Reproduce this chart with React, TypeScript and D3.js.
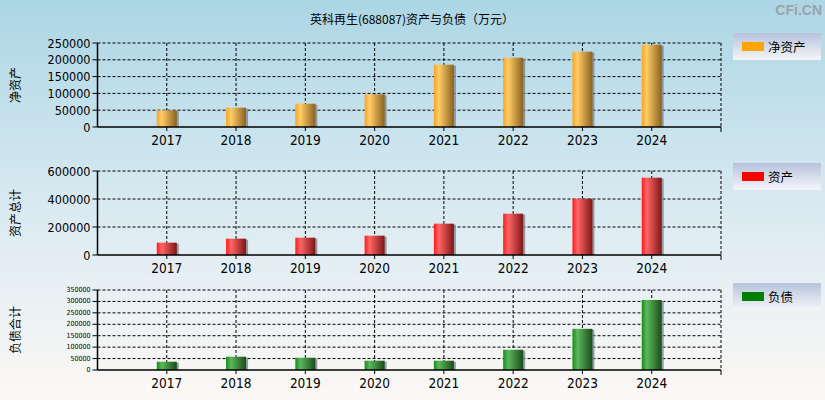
import React from "react";
import * as d3 from "d3";

const years = ["2017", "2018", "2019", "2020", "2021", "2022", "2023", "2024"];
const netAssets = [49600, 57500, 69400, 97200, 185500, 206300, 224200, 245000];
const totalAssets = [88100, 116700, 123800, 138100, 223800, 295200, 402400, 552400];
const liabilities = [36300, 58100, 53700, 40700, 40700, 88600, 180100, 306400];

const ticks1 = [0, 50000, 100000, 150000, 200000, 250000];
const ticks2 = [0, 200000, 400000, 600000];
const ticks3 = [0, 50000, 100000, 150000, 200000, 250000, 300000, 350000];

const W = 825;
const H = 400;
const left = 97.5;
const right = 721;

const NUM_FONT = "'Liberation Sans Narrow', 'Arial Narrow', 'DejaVu Sans Condensed', sans-serif";
const CJK_FONT = "'Noto Sans CJK SC', sans-serif";

type PanelProps = {
  values: number[];
  ticks: number[];
  top: number;
  bottom: number;
  title: string;
  legend: string;
  gradId: string;
  swatch: string;
  tickFont: number;
  legendTop: number;
};

const x = d3.scaleLinear().domain([0, years.length + 1]).range([left, right]);

function Panel(p: PanelProps) {
  const y = d3.scaleLinear().domain([0, p.ticks[p.ticks.length - 1]]).range([p.bottom, p.top]);
  const bw = 20;
  return (
    <g>
      {p.ticks.map((t) => (
        <g key={"h" + t}>
          {t > 0 && (
            <line x1={left} x2={right} y1={y(t)} y2={y(t)} stroke="#000" strokeDasharray="3,2" strokeWidth={1} />
          )}
          <line x1={left - 5} x2={left} y1={y(t)} y2={y(t)} stroke="#000" />
          <text
            x={left - 7}
            y={y(t)}
            textAnchor="end"
            dominantBaseline="central"
            fontFamily={NUM_FONT}
            fontSize={p.tickFont}
            fill="#000"
          >
            {t}
          </text>
        </g>
      ))}
      {years.map((yr, i) => (
        <line key={"v" + yr} x1={x(i + 1)} x2={x(i + 1)} y1={p.top} y2={p.bottom} stroke="#000" strokeDasharray="3,2" />
      ))}
      <line x1={right} x2={right} y1={p.top} y2={p.bottom} stroke="#000" strokeDasharray="3,2" />
      {p.values.map((v, i) => {
        const cx = x(i + 1);
        return (
          <g key={"b" + i}>
            <rect x={cx - bw / 2 + 2} y={y(v) + 1} width={bw} height={p.bottom - y(v) - 1} fill="#7a8890" opacity={0.8} />
            <rect x={cx - bw / 2} y={y(v)} width={bw} height={p.bottom - y(v)} fill={`url(#${p.gradId})`} />
          </g>
        );
      })}
      <line x1={left} x2={left} y1={p.top} y2={p.bottom} stroke="#000" strokeWidth={1.5} />
      <line x1={left} x2={right} y1={p.bottom} y2={p.bottom} stroke="#000" strokeWidth={1.5} />
      <line x1={right} x2={right} y1={p.bottom} y2={p.bottom + 5} stroke="#000" />
      {years.map((yr, i) => (
        <g key={"xt" + yr}>
          <line x1={x(i + 1)} x2={x(i + 1)} y1={p.bottom} y2={p.bottom + 4} stroke="#000" />
          <text
            x={x(i + 1)}
            y={p.bottom + 13}
            textAnchor="middle"
            dominantBaseline="central"
            fontFamily={NUM_FONT}
            fontSize={13.5}
            fill="#000"
          >
            {yr}
          </text>
        </g>
      ))}
      <text
        transform={`translate(14,${(p.top + p.bottom) / 2}) rotate(-90)`}
        textAnchor="middle"
        dominantBaseline="central"
        fontFamily={CJK_FONT}
        fontSize={12}
        fill="#000"
      >
        {p.title}
      </text>
      <rect x={733} y={p.legendTop} width={88} height={27} fill="url(#legendGrad)" />
      <rect x={742} y={p.legendTop + 9} width={22} height={9} fill={p.swatch} />
      <text
        x={768}
        y={p.legendTop + 13.5}
        dominantBaseline="central"
        fontFamily={CJK_FONT}
        fontSize={12.5}
        fill="#000"
      >
        {p.legend}
      </text>
    </g>
  );
}

function Grad({ id, c0, c1, c2 }: { id: string; c0: string; c1: string; c2: string }) {
  return (
    <linearGradient id={id} x1="0" x2="1" y1="0" y2="0">
      <stop offset="0%" stopColor={c0} />
      <stop offset="25%" stopColor={c1} />
      <stop offset="100%" stopColor={c2} />
    </linearGradient>
  );
}

export default function App() {
  return (
    <svg width={W} height={H} style={{ display: "block", position: "absolute", left: 0, top: 0 }}>
      <defs>
        <linearGradient id="bgGrad" x1="0" x2="0" y1="0" y2="1">
          <stop offset="0%" stopColor="#acd6e5" />
          <stop offset="55%" stopColor="#dcebf2" />
          <stop offset="100%" stopColor="#fcf8f5" />
        </linearGradient>
        <linearGradient id="legendGrad" x1="0" x2="0" y1="0" y2="1">
          <stop offset="0%" stopColor="#b6c3dc" />
          <stop offset="100%" stopColor="#f5f5f9" />
        </linearGradient>
        <Grad id="gOrange" c0="#f6a623" c1="#ffcc66" c2="#8a6220" />
        <Grad id="gRed" c0="#ff1a1a" c1="#ff6666" c2="#801515" />
        <Grad id="gGreen" c0="#168c16" c1="#5cb85c" c2="#1a4d1a" />
      </defs>
      <rect x={0} y={0} width={W} height={H} fill="url(#bgGrad)" />
      <text x={412} y={18} textAnchor="middle" dominantBaseline="central" fontFamily={CJK_FONT} fontSize={12} fill="#000">
        英科再生(688087)资产与负债（万元）
      </text>
      <text x={822} y={10} textAnchor="end" dominantBaseline="central" fontFamily="'Liberation Sans', Arial, sans-serif" fontWeight="bold" fontSize={14} fill="#99a4ab">
        CFi.CN
      </text>
      <Panel values={netAssets} ticks={ticks1} top={43} bottom={127} title="净资产" legend="净资产" gradId="gOrange" swatch="#ffa500" tickFont={12.5} legendTop={33} />
      <Panel values={totalAssets} ticks={ticks2} top={171} bottom={255} title="资产总计" legend="资产" gradId="gRed" swatch="#ff0000" tickFont={12.5} legendTop={163} />
      <Panel values={liabilities} ticks={ticks3} top={290} bottom={370} title="负债合计" legend="负债" gradId="gGreen" swatch="#008000" tickFont={7} legendTop={283} />
    </svg>
  );
}
